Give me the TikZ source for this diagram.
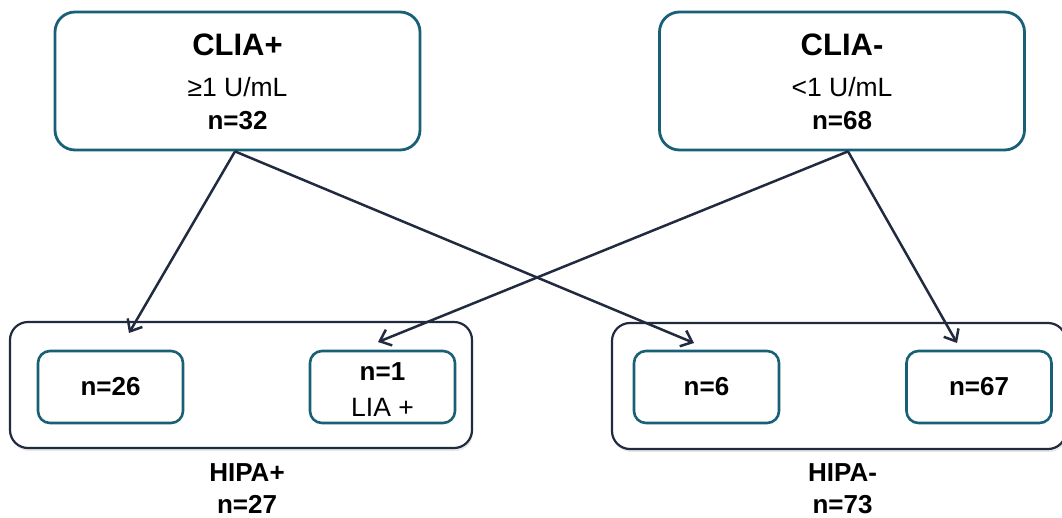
\documentclass[tikz,border=0pt]{standalone}
\usepackage{fontspec}
\setmainfont{Liberation Sans}
\usetikzlibrary{arrows.meta}
\usetikzlibrary{shadows}
\definecolor{tealline}{RGB}{24,96,118}
\definecolor{navyline}{RGB}{33,43,64}
\tikzset{
    clia/.style={
        draw=tealline, line width=2.8pt, rounded corners=20pt,
        minimum width=365pt, minimum height=138pt
    },
    group/.style={
        draw=navyline, line width=2.2pt, rounded corners=18pt, fill=white,
        drop shadow={shadow xshift=1pt, shadow yshift=-3pt, fill=black!18},
        minimum height=126pt
    },
    sub/.style={
        draw=tealline, line width=2.6pt, rounded corners=12pt,
        minimum width=145pt, minimum height=72pt
    },
    flow/.style={
        draw=navyline, line width=2.5pt,
        -{Straight Barb[length=10pt,width=17pt,line width=2.5pt]}
    },
    big/.style={font=\fontsize{31}{35}\selectfont\bfseries, anchor=base},
    txt/.style={font=\fontsize{26.5}{30}\selectfont, anchor=base},
    num/.style={font=\fontsize{26}{30}\selectfont\bfseries},
}
\newcommand{\cliabox}[5] {
	\node[clia] (#1) at (#2,81) {};
	\node[big] (#1-title) at (#2,55) {#3};
	\node[txt] (#1-cut) at (#2,96) {#4};
	\node[num, anchor=base] (#1-n) at (#2,129) {#5};
}
\newcommand{\grouplabel}[4] {
	\node[num, anchor=base] (#1-title) at (#2,481) {#3};
	\node[num, anchor=base] (#1-n) at (#2,513) {#4};
}
\begin{document}
\begin{tikzpicture}[x=1pt,y=-1pt]
		\useasboundingbox (0,0) rectangle (1062,517);

		% CLIA
		\cliabox{cliaPos}{237.5}{CLIA+}{≥1 U/mL}{n=32}
		\cliabox{cliaNeg}{842}{CLIA-}{<1 U/mL}{n=68}

		% HIPA
		\node[group, minimum width=462pt] (hipaPos) at (241,385) {};
		\node[group, minimum width=454pt] (hipaNeg) at (839,386) {};
		\grouplabel{hipaPos}{247}{HIPA+}{n=27}
		\grouplabel{hipaNeg}{842.5}{HIPA-}{n=73}

		\node[sub, num] (n26) at (110.5,387) {n=26};
		\node[sub] (n1) at (382.5,387) {};
		\node[num, anchor=base] (n1-n) at (382.5,380) {n=1};
		\node[txt] (n1-lia) at (382.5,416) {LIA +};
		\node[sub, num] (n6) at (706.5,387) {n=6};
		\node[sub, num] (n67) at (979,387) {n=67};

		% arrow tips
		\coordinate (tip26) at (129,333);
		\coordinate (tip1) at (378,342);
		\coordinate (tip6) at (694,343);
		\coordinate (tip67) at (957,343);
		\coordinate (fromPos) at (cliaPos.south -| 235,0);
		\coordinate (fromNeg) at (cliaNeg.south -| 848,0);

		\draw[flow] (fromPos) -- (tip26);
		\draw[flow] (fromPos) -- (tip6);
		\draw[flow] (fromNeg) -- (tip1);
		\draw[flow] (fromNeg) -- (tip67);
	\end{tikzpicture}
\end{document}
